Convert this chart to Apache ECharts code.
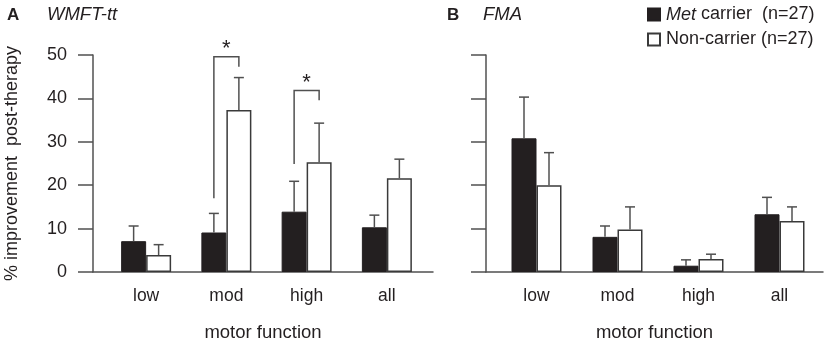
<!DOCTYPE html>
<html>
<head>
<meta charset="utf-8">
<script src="https://cdn.jsdelivr.net/npm/echarts@6/dist/echarts.min.js"></script>
<style>
  html, body { margin: 0; padding: 0; background: #fff; }
  #main { width: 827px; height: 342px; }
</style>
</head>
<body>
<div id="main"></div>
<script>
const categories = ['low', 'mod', 'high', 'all'];
const yTicks = [0, 10, 20, 30, 40, 50];
const seriesNames = ['Met carrier  (n=27)', 'Non-carrier (n=27)'];

// A: WMFT-tt, mean and mean+SE
const wmftMet = [7.1, 9.1, 13.9, 10.3];
const wmftMetTop = [10.6, 13.5, 20.9, 13.1];
const wmftNon = [3.9, 37.3, 25.3, 21.6];
const wmftNonTop = [6.3, 44.8, 34.3, 26.0];

// B: FMA
const fmaMet = [30.8, 8.1, 1.45, 13.3];
const fmaMetTop = [40.3, 10.6, 2.8, 17.2];
const fmaNon = [20.0, 9.8, 3.0, 11.75];
const fmaNonTop = [27.5, 15.0, 4.1, 15.0];

// significance brackets (panel A)
const sigCats = [1, 2];
const sigTop = [49.6, 41.8];
const sigMetEnd = [17, 24.9];
const sigNonEnd = [47.3, 39.6];

const INK = '#231f20';
const LINE = '#505050';
const FONT = 'Liberation Sans';
const BAR_W = 25;

let myChart = echarts.init(document.getElementById('main'));

function barSeries(name, data, idx, white) {
    return {
        name: name,
        type: 'bar',
        xAxisIndex: idx,
        yAxisIndex: idx,
        barWidth: BAR_W,
        barGap: '0%',
        data: data,
        itemStyle: white
            ? { color: '#fff', borderColor: '#3a3a3a', borderWidth: 1.5 }
            : { color: INK, borderColor: INK, borderWidth: 1 },
        z: 2
    };
}

function errSeries(means, tops, idx, side) {
    return {
        type: 'custom',
        xAxisIndex: idx,
        yAxisIndex: idx,
        silent: true,
        clip: false,
        z: 3,
        data: means.map((m, i) => [i, m, tops[i]]),
        renderItem: function (params, api) {
            const base = api.coord([api.value(0), api.value(1)]);
            const top = api.coord([api.value(0), api.value(2)]);
            const x = base[0] + side * BAR_W / 2;
            const st = { stroke: LINE, lineWidth: 1.5 };
            return {
                type: 'group',
                children: [
                    { type: 'line', shape: { x1: x, y1: base[1], x2: x, y2: top[1] }, style: st },
                    { type: 'line', shape: { x1: x - 5, y1: top[1], x2: x + 5, y2: top[1] }, style: st }
                ]
            };
        }
    };
}

const sigSeries = {
    type: 'custom',
    xAxisIndex: 1,
    yAxisIndex: 1,
    silent: true,
    clip: false,
    z: 4,
    data: sigCats.map((c, i) => [c, sigTop[i], sigMetEnd[i], sigNonEnd[i]]),
    renderItem: function (params, api) {
        const c = api.value(0);
        const t = api.coord([c, api.value(1)]);
        const l = api.coord([c, api.value(2)]);
        const r = api.coord([c, api.value(3)]);
        const xl = t[0] - BAR_W / 2, xr = t[0] + BAR_W / 2;
        return {
            type: 'group',
            children: [
                {
                    type: 'polyline',
                    shape: { points: [[xl, l[1]], [xl, t[1]], [xr, t[1]], [xr, r[1]]] },
                    style: { stroke: LINE, lineWidth: 1.5, fill: null }
                },
                {
                    type: 'text',
                    x: t[0], y: t[1] - 8,
                    style: { text: '*', font: '22px "Liberation Sans"', fill: INK, align: 'center', verticalAlign: 'middle' }
                }
            ]
        };
    }
};

function frameY(idx, labels) {
    return {
        type: 'value', gridIndex: idx, min: 0, max: 50, interval: 10,
        axisLine: { show: true, lineStyle: { color: LINE, width: 1.5 } },
        axisTick: { show: true, length: 15, lineStyle: { color: LINE, width: 1.5 } },
        axisLabel: { show: labels, margin: 26, color: INK, fontSize: 18, fontFamily: FONT },
        splitLine: { show: false },
        name: labels ? '% improvement  post-therapy' : '',
        nameLocation: 'middle',
        nameGap: 72,
        nameTextStyle: { color: INK, fontSize: 18, fontFamily: FONT }
    };
}

function frameX(idx) {
    return {
        type: 'value', gridIndex: idx, min: 0, max: 1,
        axisLine: { show: true, onZero: false, lineStyle: { color: LINE, width: 1.5 } },
        axisTick: { show: false }, axisLabel: { show: false }, splitLine: { show: false },
        name: 'motor function', nameLocation: 'middle', nameGap: 51,
        nameTextStyle: { color: INK, fontSize: 18.5, fontFamily: FONT }
    };
}

function barX(idx) {
    return {
        type: 'category', gridIndex: idx, data: categories,
        axisLine: { show: false }, axisTick: { show: false },
        axisLabel: { margin: 15, color: INK, fontSize: 17.5, fontFamily: FONT }
    };
}

function barY(idx) {
    return { type: 'value', gridIndex: idx, min: 0, max: 50, interval: 10, show: false };
}

myChart.setOption({
    animation: false,
    backgroundColor: '#fff',
    textStyle: { fontFamily: FONT },
    title: [
        { text: 'A', left: 2, top: 2, textStyle: { fontSize: 17, fontWeight: 'bold', color: INK, fontFamily: FONT } },
        { text: 'WMFT-tt', left: 42, top: 0, textStyle: { fontSize: 18.5, fontStyle: 'italic', fontWeight: 'normal', color: INK, fontFamily: FONT } },
        { text: 'B', left: 442, top: 2, textStyle: { fontSize: 17, fontWeight: 'bold', color: INK, fontFamily: FONT } },
        { text: 'FMA', left: 478, top: 0, textStyle: { fontSize: 18.5, fontStyle: 'italic', fontWeight: 'normal', color: INK, fontFamily: FONT } }
    ],
    legend: {
        data: seriesNames,
        orient: 'vertical',
        left: 642,
        top: 0,
        itemWidth: 12,
        itemHeight: 12,
        itemGap: 6,
        icon: 'rect',
        textStyle: {
            color: INK, fontSize: 18, fontFamily: FONT, padding: [0, 0, 0, 1], lineHeight: 19,
            rich: { i: { fontStyle: 'italic', fontSize: 18, fontFamily: FONT, color: INK } }
        },
        formatter: function (name) {
            return name.indexOf('Met') === 0 ? '{i|Met}' + name.slice(3) : name;
        }
    },
    grid: [
        { left: 93, top: 55, width: 340, height: 217, outerBoundsMode: 'none' },
        { left: 106, top: 55, width: 321, height: 217, outerBoundsMode: 'none' },
        { left: 486, top: 55, width: 337, height: 217, outerBoundsMode: 'none' },
        { left: 496, top: 55, width: 324, height: 217, outerBoundsMode: 'none' }
    ],
    xAxis: [frameX(0), barX(1), frameX(2), barX(3)],
    yAxis: [frameY(0, true), barY(1), frameY(2, false), barY(3)],
    series: [
        barSeries(seriesNames[0], wmftMet, 1, false),
        barSeries(seriesNames[1], wmftNon, 1, true),
        errSeries(wmftMet, wmftMetTop, 1, -1),
        errSeries(wmftNon, wmftNonTop, 1, 1),
        sigSeries,
        barSeries(seriesNames[0], fmaMet, 3, false),
        barSeries(seriesNames[1], fmaNon, 3, true),
        errSeries(fmaMet, fmaMetTop, 3, -1),
        errSeries(fmaNon, fmaNonTop, 3, 1)
    ]
});
</script>
</body>
</html>
